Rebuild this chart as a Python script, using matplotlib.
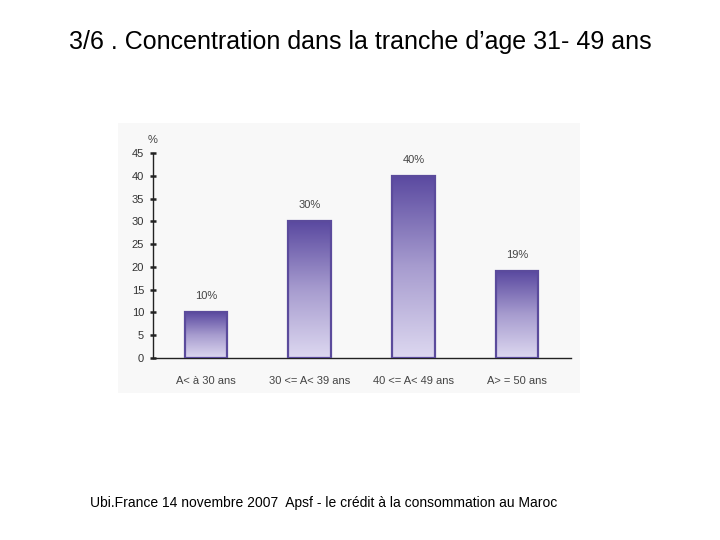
import numpy as np
import matplotlib
matplotlib.use("Agg")
import matplotlib.pyplot as plt
from matplotlib.colors import LinearSegmentedColormap
from matplotlib.patches import Rectangle

categories = ["A< à 30 ans", "30 <= A< 39 ans", "40 <= A< 49 ans", "A> = 50 ans"]
values = [10, 30, 40, 19]
labels = ["10%", "30%", "40%", "19%"]
yticks = [0, 5, 10, 15, 20, 25, 30, 35, 40, 45]

title = "3/6 . Concentration dans la tranche d\u2019age 31- 49 ans"
footer = "Ubi.France 14 novembre 2007  Apsf - le crédit à la consommation au Maroc"

W, H = 720, 540
fig = plt.figure(figsize=(7.2, 5.4), dpi=100)
fig.patch.set_facecolor("white")

# light panel behind the chart (pasted picture in the original slide)
fig.patches.append(Rectangle((118 / W, 1 - 393 / H), (580 - 118) / W, (393 - 123) / H,
                             transform=fig.transFigure, facecolor="#f8f8f8",
                             edgecolor="none", zorder=-5))

ax = fig.add_axes([153 / W, 1 - 358 / H, (571 - 153) / W, (358 - 153) / H])
ax.set_facecolor("none")
ax.set_zorder(2)

grad = LinearSegmentedColormap.from_list("purp", ["#ddd8f0", "#a79ccf", "#5a49a0"])
g = np.linspace(0, 1, 256).reshape(-1, 1)

small = dict(family="Liberation Sans", fontsize=8, color="#444444")

x = np.arange(len(values))
bars = ax.bar(x, values, width=0.41, facecolor="none", edgecolor="#5b4b9c",
              linewidth=1.6, zorder=3)
for b, lab in zip(bars, labels):
    x0, y0 = b.get_x(), b.get_y()
    ax.imshow(g, cmap=grad, origin="lower", aspect="auto",
              extent=(x0, x0 + b.get_width(), y0, y0 + b.get_height()), zorder=2)
    ax.annotate(lab, (x0 + b.get_width() / 2, b.get_height()), xytext=(0, 8),
                textcoords="offset points", ha="center", va="bottom", **small)
ax.set_xlim(-0.51, 3.52)
ax.set_ylim(0, 45)

for s in ["top", "right"]:
    ax.spines[s].set_visible(False)
ax.spines["left"].set_color("#222222")
ax.spines["bottom"].set_color("#222222")
ax.spines["left"].set_linewidth(1.0)
ax.spines["bottom"].set_linewidth(1.0)

ax.set_yticks(yticks)
ax.set_yticklabels([str(t) for t in yticks], family="Liberation Sans",
                   fontsize=8, color="#333333")
ax.tick_params(axis="y", direction="inout", length=5, width=1.8, color="#222222", pad=4)
ax.set_xticks(x)
ax.set_xticklabels(categories, **small)
ax.tick_params(axis="x", length=0, pad=13)

ax.text(0, 1.04, "%", transform=ax.transAxes, ha="center", va="bottom", **small)

fig.text(360 / W, 1 - 42 / H, title, ha="center", va="center",
         fontsize=18, family="Liberation Sans", color="black")
fig.text(90 / W, 1 - 503 / H, footer, ha="left", va="center",
         fontsize=10, family="Liberation Sans", color="black")

fig.savefig("out.png", dpi=100)
